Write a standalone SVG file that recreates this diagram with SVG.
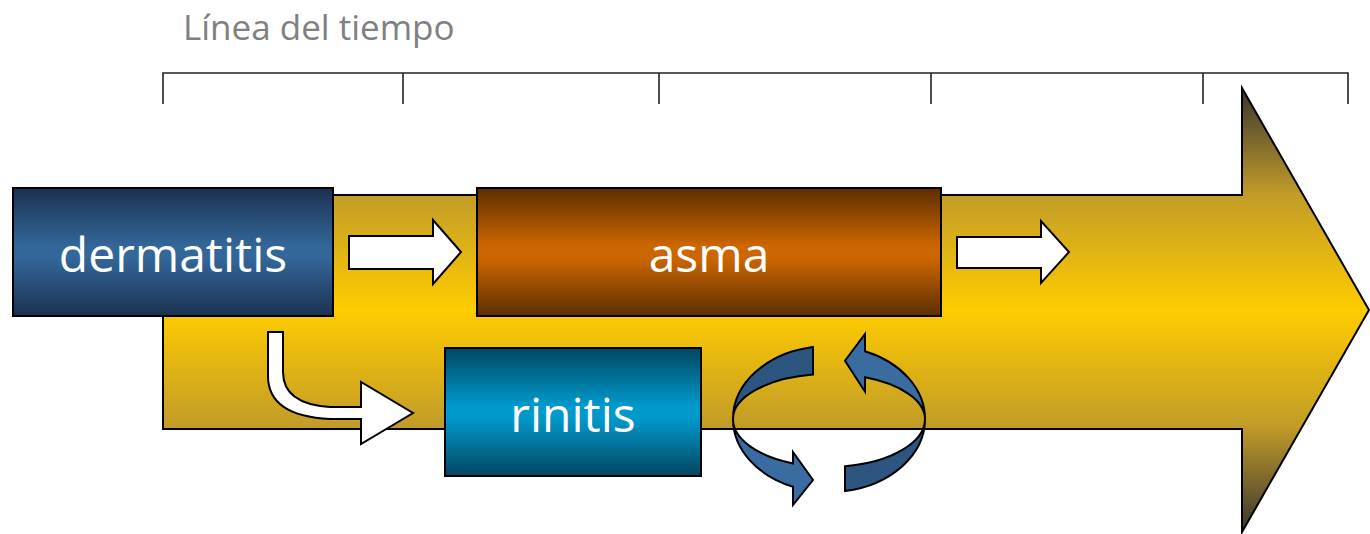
<svg xmlns="http://www.w3.org/2000/svg" width="1370" height="534" viewBox="0 0 1370 534">
  <defs>
    <linearGradient id="gGold" gradientUnits="userSpaceOnUse" x1="0" y1="88" x2="0" y2="532">
      <stop offset="0" stop-color="#3a3530"/>
      <stop offset="0.24" stop-color="#c29c28"/>
      <stop offset="0.5" stop-color="#ffcc00"/>
      <stop offset="0.76" stop-color="#c29c28"/>
      <stop offset="1" stop-color="#3a3530"/>
    </linearGradient>
    <linearGradient id="gBlue" x1="0" y1="0" x2="0" y2="1">
      <stop offset="0" stop-color="#1b3150"/>
      <stop offset="0.45" stop-color="#336699"/>
      <stop offset="0.55" stop-color="#336699"/>
      <stop offset="1" stop-color="#1b3150"/>
    </linearGradient>
    <linearGradient id="gBrown" x1="0" y1="0" x2="0" y2="1">
      <stop offset="0" stop-color="#5c2e00"/>
      <stop offset="0.45" stop-color="#cc6600"/>
      <stop offset="0.55" stop-color="#cc6600"/>
      <stop offset="1" stop-color="#5c2e00"/>
    </linearGradient>
    <linearGradient id="gTeal" x1="0" y1="0" x2="0" y2="1">
      <stop offset="0" stop-color="#034660"/>
      <stop offset="0.45" stop-color="#0099cc"/>
      <stop offset="0.55" stop-color="#0099cc"/>
      <stop offset="1" stop-color="#034660"/>
    </linearGradient>
    <style>
      .edge { stroke: #000; stroke-width: 2; stroke-linejoin: miter; }
      .box { stroke: #000; stroke-width: 2; }
      .label { font-family: "Open Sans", "Liberation Sans", sans-serif; font-size: 48px; fill: #fff; text-anchor: middle; }
      .title { font-family: "Open Sans", "Liberation Sans", sans-serif; font-size: 35px; fill: #808080; }
      .tick { stroke: #222; stroke-width: 1.6; fill: none; }
      .white { fill: #fff; }
      .ringDark { fill: #2c5580; }
      .ringLight { fill: #3a6ca2; }
    </style>
  </defs>

  <!-- title and time ruler -->
  <g id="timeline">
    <text class="title" x="183" y="40">Línea del tiempo</text>
    <path class="tick" d="M163,104 V73 H1348 V104 M403,73 V104 M659,73 V104 M931,73 V104 M1203,73 V104"/>
  </g>

  <!-- large golden background arrow -->
  <g id="time-arrow">
    <path class="edge" fill="url(#gGold)" d="M163,195 H1242 V88 L1369,310 L1242,532 V429 H163 Z"/>
  </g>

  <!-- connectors -->
  <g id="connectors">
    <!-- dermatitis to asma -->
    <path class="edge white" d="M349,236 H433 V220 L461,252 L433,284 V269 H349 Z"/>
    <!-- asma onward -->
    <path class="edge white" d="M957,237 H1041 V221 L1069,252 L1041,283 V268 H957 Z"/>
    <!-- dermatitis to rinitis (bent) -->
    <path class="edge white" d="M268,332 H283 V372 Q283,404 330,407 H361 V382 L413,413 L361,444 V419 H330 Q268,416 268,376 Z"/>
    <!-- circular exchange between rinitis and asma -->
    <path class="edge ringDark" d="M813,347 A96 73 0 0 0 733,419 A96 45 0 0 1 813,374.6 Z"/>
    <path class="edge ringDark" d="M925,419 A96 73 0 0 1 845,491 V466.3 A96 48 0 0 0 925,419 Z"/>
    <path class="edge ringLight" d="M733,419 A96 73 0 0 0 793,486.7 V505 L813,480 L793,452 V463.5 A96 48 0 0 1 733,419 Z"/>
    <path class="edge ringLight" d="M865,351.3 A96 73 0 0 1 925,419 A96 45 0 0 0 865,377.3 V391.7 L845,360.7 L865,334 Z"/>
  </g>

  <g id="node-dermatitis">
    <rect class="box" x="13" y="188" width="320" height="128" fill="url(#gBlue)"/>
    <text class="label" x="173" y="272">dermatitis</text>
  </g>

  <g id="node-asma">
    <rect class="box" x="477" y="188" width="464" height="128" fill="url(#gBrown)"/>
    <text class="label" x="709" y="272">asma</text>
  </g>

  <g id="node-rinitis">
    <rect class="box" x="445" y="348" width="256" height="128" fill="url(#gTeal)"/>
    <text class="label" x="573" y="432">rinitis</text>
  </g>
</svg>
